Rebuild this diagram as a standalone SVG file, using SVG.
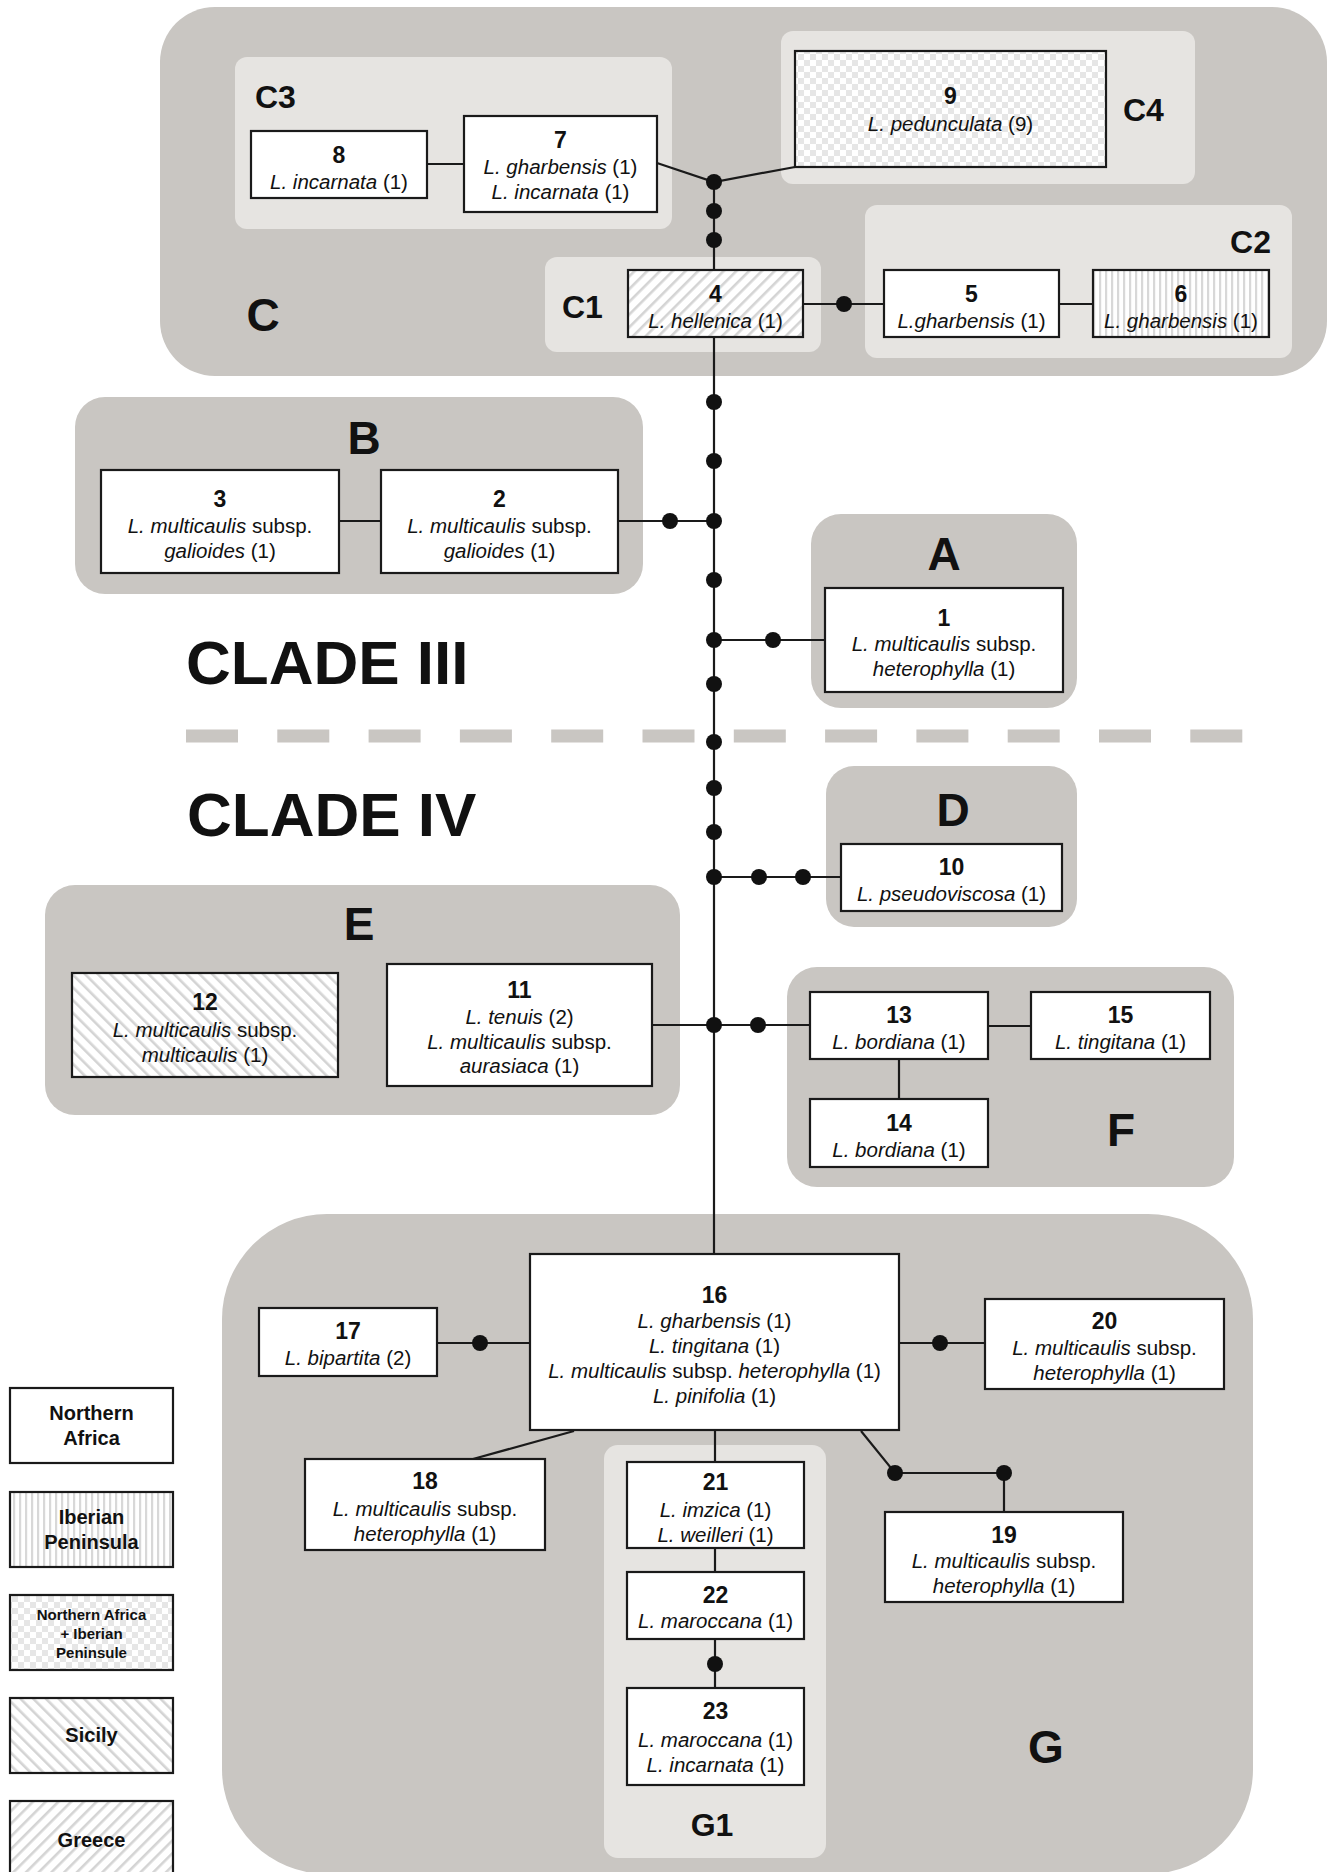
<svg xmlns="http://www.w3.org/2000/svg" width="1332" height="1872" viewBox="0 0 1332 1872">
<defs>
<pattern id="pIber" width="6" height="10" patternUnits="userSpaceOnUse"><rect width="6" height="10" fill="#fff"/><rect x="1" width="2.2" height="10" fill="#d8d8d8"/></pattern>
<pattern id="pCheck" width="12" height="12" patternUnits="userSpaceOnUse"><rect width="12" height="12" fill="#fff"/><rect width="6" height="6" fill="#e6e6e6"/><rect x="6" y="6" width="6" height="6" fill="#e6e6e6"/></pattern>
<pattern id="pSicily" width="9" height="9" patternUnits="userSpaceOnUse" patternTransform="rotate(-45)"><rect width="9" height="9" fill="#fff"/><rect width="2.6" height="9" fill="#d4d4d4"/></pattern>
<pattern id="pGreece" width="9" height="9" patternUnits="userSpaceOnUse" patternTransform="rotate(45)"><rect width="9" height="9" fill="#fff"/><rect width="2.6" height="9" fill="#d4d4d4"/></pattern>
</defs>
<style>
.grp{fill:#c9c6c2}
.sub{fill:#e6e4e1}
.box{fill:#fff;stroke:#1a1a1a;stroke-width:2.2}
.ln{stroke:#1a1a1a;stroke-width:2.2;fill:none}
.dot{fill:#111}
text{font-family:"Liberation Sans",Arial,sans-serif;fill:#111}
.n{font-weight:bold;font-size:23px;text-anchor:middle}
.s{font-size:20.5px;text-anchor:middle}
.i{font-style:italic}
.big{font-weight:bold;font-size:46px;text-anchor:middle}
.lab{font-weight:bold;font-size:32px}
.clade{font-weight:bold;font-size:62px}
.leg{font-weight:bold;font-size:20px;text-anchor:middle}
.legs{font-weight:bold;font-size:15px;text-anchor:middle}
</style>
<rect width="1332" height="1872" fill="#fff"/>

<g id="groups">
<rect id="grp-C" class="grp" x="160" y="7" width="1167" height="369" rx="55"/>
<rect id="grp-C3" class="sub" x="235" y="57" width="437" height="172" rx="12"/>
<rect id="grp-C4" class="sub" x="781" y="31" width="414" height="153" rx="12"/>
<rect id="grp-C1" class="sub" x="545" y="257" width="276" height="95" rx="12"/>
<rect id="grp-C2" class="sub" x="865" y="205" width="427" height="153" rx="12"/>
<rect id="grp-B" class="grp" x="75" y="397" width="568" height="197" rx="30"/>
<rect id="grp-A" class="grp" x="811" y="514" width="266" height="194" rx="30"/>
<rect id="grp-D" class="grp" x="826" y="766" width="251" height="161" rx="28"/>
<rect id="grp-E" class="grp" x="45" y="885" width="635" height="230" rx="30"/>
<rect id="grp-F" class="grp" x="787" y="967" width="447" height="220" rx="30"/>
<rect id="grp-G" class="grp" x="222" y="1214" width="1031" height="660" rx="105"/>
<rect id="grp-G1" class="sub" x="604" y="1445" width="222" height="413" rx="14"/>
<text class="big" x="263" y="331">C</text>
<text class="lab" x="255" y="108">C3</text>
<text class="lab" x="1123" y="121">C4</text>
<text class="lab" x="562" y="318">C1</text>
<text class="lab" x="1271" y="253" text-anchor="end">C2</text>
<text class="big" x="364" y="454">B</text>
<text class="big" x="944" y="570">A</text>
<text class="big" x="953" y="826">D</text>
<text class="big" x="359" y="940">E</text>
<text class="big" x="1121" y="1146">F</text>
<text class="big" x="1046" y="1763">G</text>
<text class="lab" x="712" y="1836" text-anchor="middle">G1</text>
</g>

<g id="clades">
<text class="clade" x="186" y="684">CLADE III</text>
<text class="clade" x="187" y="836">CLADE IV</text>
<line x1="186" y1="736" x2="1243" y2="736" stroke="#c9c6c2" stroke-width="13" stroke-dasharray="52 39.3"/>
</g>

<g id="connectors">
<polyline class="ln" points="657,163 714,182 795,167"/>
<line class="ln" x1="427" y1="164" x2="464" y2="164"/>
<line class="ln" x1="714" y1="182" x2="714" y2="270"/>
<line class="ln" x1="714" y1="337" x2="714" y2="1254"/>
<line class="ln" x1="803" y1="304" x2="884" y2="304"/>
<line class="ln" x1="1059" y1="304" x2="1093" y2="304"/>
<line class="ln" x1="339" y1="521" x2="381" y2="521"/>
<line class="ln" x1="618" y1="521" x2="714" y2="521"/>
<line class="ln" x1="714" y1="640" x2="825" y2="640"/>
<line class="ln" x1="714" y1="877" x2="841" y2="877"/>
<line class="ln" x1="652" y1="1025" x2="810" y2="1025"/>
<line class="ln" x1="988" y1="1026" x2="1031" y2="1026"/>
<line class="ln" x1="899" y1="1059" x2="899" y2="1099"/>
<line class="ln" x1="437" y1="1343" x2="530" y2="1343"/>
<line class="ln" x1="899" y1="1343" x2="985" y2="1343"/>
<line class="ln" x1="574" y1="1431" x2="473" y2="1459"/>
<polyline class="ln" points="861,1431 895,1473 1004,1473 1004,1512"/>
<line class="ln" x1="715" y1="1431" x2="715" y2="1462"/>
<line class="ln" x1="715" y1="1548" x2="715" y2="1572"/>
<line class="ln" x1="715" y1="1639" x2="715" y2="1688"/>
<g class="dot">
<circle cx="714" cy="182" r="8"/>
<circle cx="714" cy="211" r="8"/>
<circle cx="714" cy="240" r="8"/>
<circle cx="844" cy="304" r="8"/>
<circle cx="714" cy="402" r="8"/>
<circle cx="714" cy="461" r="8"/>
<circle cx="714" cy="521" r="8"/>
<circle cx="670" cy="521" r="8"/>
<circle cx="714" cy="580" r="8"/>
<circle cx="714" cy="640" r="8"/>
<circle cx="773" cy="640" r="8"/>
<circle cx="714" cy="684" r="8"/>
<circle cx="714" cy="742" r="8"/>
<circle cx="714" cy="788" r="8"/>
<circle cx="714" cy="832" r="8"/>
<circle cx="714" cy="877" r="8"/>
<circle cx="759" cy="877" r="8"/>
<circle cx="803" cy="877" r="8"/>
<circle cx="714" cy="1025" r="8"/>
<circle cx="758" cy="1025" r="8"/>
<circle cx="480" cy="1343" r="8"/>
<circle cx="940" cy="1343" r="8"/>
<circle cx="895" cy="1473" r="8"/>
<circle cx="1004" cy="1473" r="8"/>
<circle cx="715" cy="1664" r="8"/>
</g>
</g>

<g id="n8"><rect class="box" x="251" y="131" width="176" height="67"/><text class="n" x="339" y="163">8</text><text class="s" x="339" y="189"><tspan class="i">L. incarnata</tspan> (1)</text></g>
<g id="n7"><rect class="box" x="464" y="116" width="193" height="96"/><text class="n" x="560.5" y="148">7</text><text class="s" x="560.5" y="174"><tspan class="i">L. gharbensis</tspan> (1)</text><text class="s" x="560.5" y="199"><tspan class="i">L. incarnata</tspan> (1)</text></g>
<g id="n9"><rect class="box" x="795" y="51" width="311" height="116" style="fill:url(#pCheck)"/><text class="n" x="950.5" y="104">9</text><text class="s" x="950.5" y="131"><tspan class="i">L. pedunculata</tspan> (9)</text></g>
<g id="n4"><rect class="box" x="628" y="270" width="175" height="67" style="fill:url(#pGreece)"/><text class="n" x="715.5" y="302">4</text><text class="s" x="715.5" y="328"><tspan class="i">L. hellenica</tspan> (1)</text></g>
<g id="n5"><rect class="box" x="884" y="270" width="175" height="67"/><text class="n" x="971.5" y="302">5</text><text class="s" x="971.5" y="328"><tspan class="i">L.gharbensis</tspan> (1)</text></g>
<g id="n6"><rect class="box" x="1093" y="270" width="176" height="67" style="fill:url(#pIber)"/><text class="n" x="1181" y="302">6</text><text class="s" x="1181" y="328"><tspan class="i">L. gharbensis</tspan> (1)</text></g>
<g id="n3"><rect class="box" x="101" y="470" width="238" height="103"/><text class="n" x="220" y="507">3</text><text class="s" x="220" y="533"><tspan class="i">L. multicaulis</tspan> subsp.</text><text class="s" x="220" y="558"><tspan class="i">galioides</tspan> (1)</text></g>
<g id="n2"><rect class="box" x="381" y="470" width="237" height="103"/><text class="n" x="499.5" y="507">2</text><text class="s" x="499.5" y="533"><tspan class="i">L. multicaulis</tspan> subsp.</text><text class="s" x="499.5" y="558"><tspan class="i">galioides</tspan> (1)</text></g>
<g id="n1"><rect class="box" x="825" y="588" width="238" height="104"/><text class="n" x="944" y="626">1</text><text class="s" x="944" y="651"><tspan class="i">L. multicaulis</tspan> subsp.</text><text class="s" x="944" y="676"><tspan class="i">heterophylla</tspan> (1)</text></g>
<g id="n10"><rect class="box" x="841" y="844" width="221" height="67"/><text class="n" x="951.5" y="875">10</text><text class="s" x="951.5" y="901"><tspan class="i">L. pseudoviscosa</tspan> (1)</text></g>
<g id="n12"><rect class="box" x="72" y="973" width="266" height="104" style="fill:url(#pSicily)"/><text class="n" x="205" y="1010">12</text><text class="s" x="205" y="1037"><tspan class="i">L. multicaulis</tspan> subsp.</text><text class="s" x="205" y="1062"><tspan class="i">multicaulis</tspan> (1)</text></g>
<g id="n11"><rect class="box" x="387" y="964" width="265" height="122"/><text class="n" x="519.5" y="998">11</text><text class="s" x="519.5" y="1024"><tspan class="i">L. tenuis</tspan> (2)</text><text class="s" x="519.5" y="1049"><tspan class="i">L. multicaulis</tspan> subsp.</text><text class="s" x="519.5" y="1073"><tspan class="i">aurasiaca</tspan> (1)</text></g>
<g id="n13"><rect class="box" x="810" y="992" width="178" height="67"/><text class="n" x="899" y="1023">13</text><text class="s" x="899" y="1049"><tspan class="i">L. bordiana</tspan> (1)</text></g>
<g id="n15"><rect class="box" x="1031" y="992" width="179" height="67"/><text class="n" x="1120.5" y="1023">15</text><text class="s" x="1120.5" y="1049"><tspan class="i">L. tingitana</tspan> (1)</text></g>
<g id="n14"><rect class="box" x="810" y="1099" width="178" height="68"/><text class="n" x="899" y="1131">14</text><text class="s" x="899" y="1157"><tspan class="i">L. bordiana</tspan> (1)</text></g>
<g id="n16"><rect class="box" x="530" y="1254" width="369" height="176"/><text class="n" x="714.5" y="1303">16</text><text class="s" x="714.5" y="1328"><tspan class="i">L. gharbensis</tspan> (1)</text><text class="s" x="714.5" y="1353"><tspan class="i">L. tingitana</tspan> (1)</text><text class="s" x="714.5" y="1378"><tspan class="i">L. multicaulis</tspan> subsp. <tspan class="i">heterophylla</tspan> (1)</text><text class="s" x="714.5" y="1403"><tspan class="i">L. pinifolia</tspan> (1)</text></g>
<g id="n17"><rect class="box" x="259" y="1308" width="178" height="68"/><text class="n" x="348" y="1339">17</text><text class="s" x="348" y="1365"><tspan class="i">L. bipartita</tspan> (2)</text></g>
<g id="n20"><rect class="box" x="985" y="1299" width="239" height="90"/><text class="n" x="1104.5" y="1329">20</text><text class="s" x="1104.5" y="1355"><tspan class="i">L. multicaulis</tspan> subsp.</text><text class="s" x="1104.5" y="1380"><tspan class="i">heterophylla</tspan> (1)</text></g>
<g id="n18"><rect class="box" x="305" y="1459" width="240" height="91"/><text class="n" x="425" y="1489">18</text><text class="s" x="425" y="1516"><tspan class="i">L. multicaulis</tspan> subsp.</text><text class="s" x="425" y="1541"><tspan class="i">heterophylla</tspan> (1)</text></g>
<g id="n19"><rect class="box" x="885" y="1512" width="238" height="90"/><text class="n" x="1004" y="1543">19</text><text class="s" x="1004" y="1568"><tspan class="i">L. multicaulis</tspan> subsp.</text><text class="s" x="1004" y="1593"><tspan class="i">heterophylla</tspan> (1)</text></g>
<g id="n21"><rect class="box" x="627" y="1462" width="177" height="86"/><text class="n" x="715.5" y="1490">21</text><text class="s" x="715.5" y="1517"><tspan class="i">L. imzica</tspan> (1)</text><text class="s" x="715.5" y="1542"><tspan class="i">L. weilleri</tspan> (1)</text></g>
<g id="n22"><rect class="box" x="627" y="1572" width="177" height="67"/><text class="n" x="715.5" y="1603">22</text><text class="s" x="715.5" y="1628"><tspan class="i">L. maroccana</tspan> (1)</text></g>
<g id="n23"><rect class="box" x="627" y="1688" width="177" height="97"/><text class="n" x="715.5" y="1719">23</text><text class="s" x="715.5" y="1747"><tspan class="i">L. maroccana</tspan> (1)</text><text class="s" x="715.5" y="1772"><tspan class="i">L. incarnata</tspan> (1)</text></g>

<g id="legend">
<g id="leg-na"><rect class="box" x="10" y="1388" width="163" height="75"/><text class="leg" x="91.5" y="1420">Northern</text><text class="leg" x="91.5" y="1445">Africa</text></g>
<g id="leg-ip"><rect class="box" x="10" y="1492" width="163" height="75" style="fill:url(#pIber)"/><text class="leg" x="91.5" y="1524">Iberian</text><text class="leg" x="91.5" y="1549">Peninsula</text></g>
<g id="leg-naip"><rect class="box" x="10" y="1595" width="163" height="75" style="fill:url(#pCheck)"/><text class="legs" x="91.5" y="1620">Northern Africa</text><text class="legs" x="91.5" y="1639">+ Iberian</text><text class="legs" x="91.5" y="1658">Peninsule</text></g>
<g id="leg-si"><rect class="box" x="10" y="1698" width="163" height="75" style="fill:url(#pSicily)"/><text class="leg" x="91.5" y="1742">Sicily</text></g>
<g id="leg-gr"><rect class="box" x="10" y="1801" width="163" height="76" style="fill:url(#pGreece)"/><text class="leg" x="91.5" y="1847">Greece</text></g>
</g>
</svg>
